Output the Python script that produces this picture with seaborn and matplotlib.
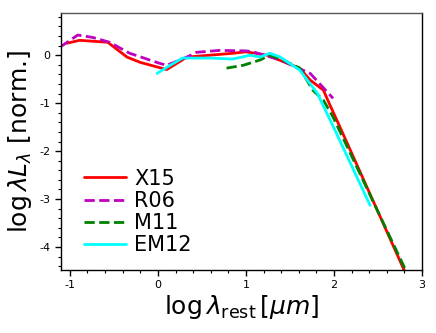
import matplotlib
matplotlib.use("Agg")
import matplotlib.pyplot as plt
import seaborn as sns
import pandas as pd
import numpy as np
from matplotlib.ticker import MultipleLocator

sns.set_style("ticks")
plt.rcParams['font.family'] = ['DejaVu Sans']
plt.rcParams['axes.unicode_minus'] = False
plt.rcParams['mathtext.fontset'] = 'dejavusans'
for k in ['text.color', 'axes.labelcolor', 'xtick.color', 'ytick.color', 'axes.edgecolor']:
    plt.rcParams[k] = 'black'

# X15 (red solid)
x15_x = [-1.03, -0.89, -0.57, -0.35, -0.20, 0.10, 0.33, 0.85, 1.00, 1.24, 1.61, 1.73, 1.88, 1.93, 2.10, 2.85]
x15_y = [0.25, 0.31, 0.27, -0.04, -0.15, -0.30, -0.04, 0.04, 0.07, 0.00, -0.27, -0.52, -0.73, -0.94, -1.63, -4.70]
# R06 (magenta dashed)
r06_x = [-1.11, -0.91, -0.74, -0.55, -0.32, 0.02, 0.10, 0.33, 0.44, 0.70, 1.00, 1.08, 1.39, 1.73, 1.99]
r06_y = [0.17, 0.42, 0.37, 0.27, 0.04, -0.17, -0.21, -0.04, 0.06, 0.10, 0.09, 0.07, -0.10, -0.38, -0.90]
# M11 (green dashed)
m11_x = [0.78, 0.97, 1.16, 1.27, 1.42, 1.61, 1.76, 1.88, 1.99, 2.85]
m11_y = [-0.27, -0.21, -0.10, 0.00, -0.10, -0.27, -0.73, -0.94, -1.29, -4.62]
# EM12 (cyan solid)
em12_x = [-0.01, 0.14, 0.28, 0.59, 0.85, 1.00, 1.05, 1.16, 1.27, 1.39, 1.61, 1.81, 2.01, 2.41]
em12_y = [-0.38, -0.21, -0.06, -0.06, -0.08, -0.02, 0.00, -0.04, 0.04, -0.04, -0.31, -0.79, -1.56, -3.13]

series = [
    ("X15", x15_x, x15_y, "red", "-"),
    ("R06", r06_x, r06_y, "m", "--"),
    ("M11", m11_x, m11_y, "green", "--"),
    ("EM12", em12_x, em12_y, "cyan", "-"),
]

fig = plt.figure(figsize=(4.36, 3.33), dpi=100)
ax = fig.add_axes([0.14, 0.189, 0.828, 0.772])

for name, xs, ys, c, ls in series:
    df = pd.DataFrame({"x": xs, "y": ys})
    sns.lineplot(data=df, x="x", y="y", ax=ax, color=c, linestyle=ls, lw=2.0,
                 label=name, sort=False, estimator=None)

ax.set_xlim(-1.1, 3.0)
ax.set_ylim(-4.48, 0.88)
ax.xaxis.set_major_locator(MultipleLocator(1))
ax.xaxis.set_minor_locator(MultipleLocator(0.2))
ax.yaxis.set_major_locator(MultipleLocator(1))
ax.yaxis.set_minor_locator(MultipleLocator(0.2))
ax.tick_params(which='major', length=4, width=1, labelsize=8, direction='out')
ax.tick_params(which='minor', length=2, width=0.8, direction='out')
for s in ax.spines.values():
    s.set_visible(True)
    s.set_color('black')
    s.set_linewidth(1.0)
ax.spines['top'].set_color('#555555')

ax.set_xlabel(r"$\log\lambda_{\rm rest}\,[\mu m]$", fontsize=18, labelpad=2)
ax.set_ylabel(r"$\log\lambda L_{\lambda}$ [norm.]", fontsize=18, labelpad=4)

leg = ax.legend(loc='lower left', bbox_to_anchor=(0.03, 0.01), fontsize=15, frameon=False,
                handlelength=2.0, handletextpad=0.4, labelspacing=0.1, borderaxespad=0.2)

fig.savefig("out.png", dpi=100)
